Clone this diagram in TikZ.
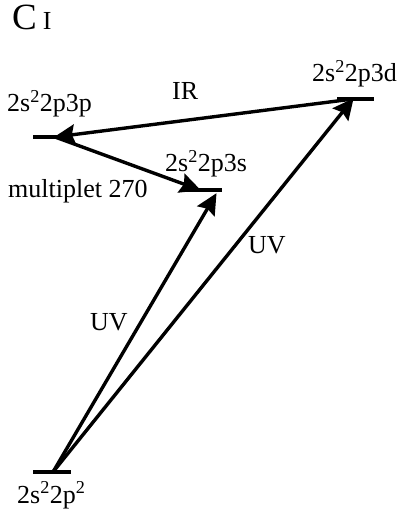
\documentclass[tikz,border=0pt]{standalone}
\usepackage{fontspec}
\setmainfont{Liberation Serif}
\usetikzlibrary{arrows.meta}
\tikzset{
  lbl/.style={anchor=base west, inner sep=0pt, font=\fontsize{26}{30}\selectfont},
  level/.style={line width=3.4pt},
  trans/.style={line width=3.4pt, -{Stealth[length=21pt,width=20pt,inset=3pt]}, shorten >=-1pt}
}
\begin{document}
\begin{tikzpicture}[x=1pt,y=-1pt]
\useasboundingbox (0,0) rectangle (403,518);
% title
\node[anchor=base west, inner sep=0pt] (title) at (12,30)
  {\fontsize{37}{40}\selectfont C\hspace{6pt}\fontsize{26}{28}\selectfont I};
% level coordinates
\coordinate (pL) at (33,137);  \coordinate (pR) at (70,137);
\coordinate (dL) at (337,99);  \coordinate (dR) at (374,99);
\coordinate (sL) at (187,190); \coordinate (sR) at (222,190);
\coordinate (gL) at (33,472);  \coordinate (gR) at (71,472);
% arrow end points
\coordinate (p) at (55,137);
\coordinate (d) at (353,99);
\coordinate (s1) at (200,190);
\coordinate (s2) at (216,194);
\coordinate (g) at (53,472);
% levels
\draw[level] (pL) -- (pR);
\draw[level] (dL) -- (dR);
\draw[level] (sL) -- (sR);
\draw[level] (gL) -- (gR);
% transitions
\draw[trans] (d) -- (p);
\draw[trans] (p) -- (s1);
\draw[trans] (g) -- (s2);
\draw[trans] (g) -- (d);
% labels
\node[lbl] (l3p) at (7,112) {2s\textsuperscript{2}2p3p};
\node[lbl] (l3d) at (312,82) {2s\textsuperscript{2}2p3d};
\node[lbl] (l3s) at (165,172) {2s\textsuperscript{2}2p3s};
\node[lbl] (lg) at (17,503) {2s\textsuperscript{2}2p\textsuperscript{2}};
\node[lbl] (ir) at (172,100) {IR};
\node[lbl] (mult) at (8,198) {multiplet 270};
\node[lbl] (uv1) at (90,330) {UV};
\node[lbl] (uv2) at (248,253) {UV};
\end{tikzpicture}
\end{document}
